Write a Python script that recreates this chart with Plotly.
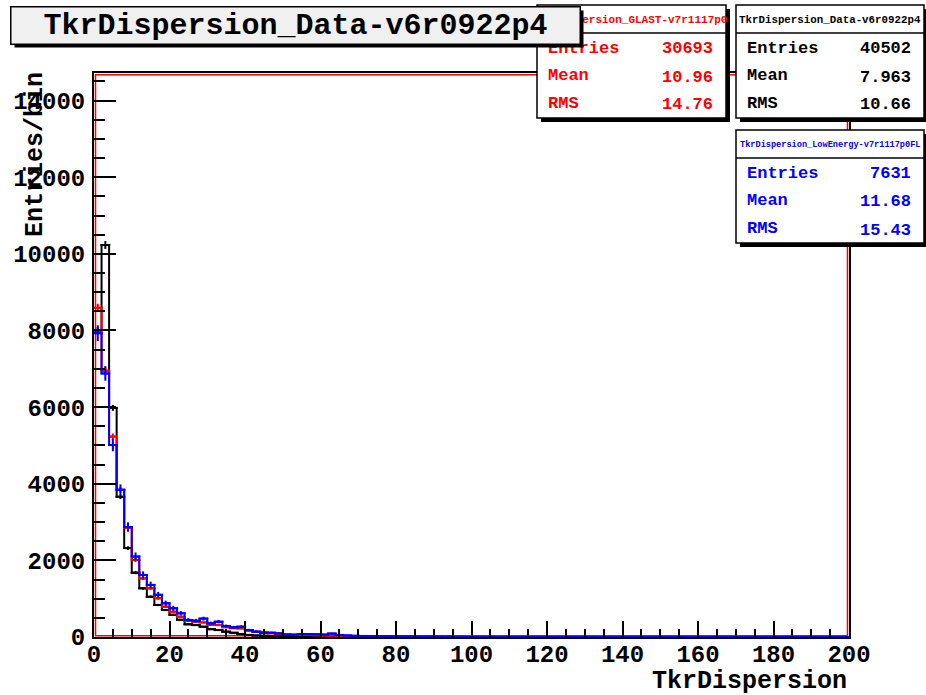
import numpy as np
import plotly.graph_objects as go

# bin edges: 100 bins of width 2 on [0, 200]
edges = np.arange(0, 202, 2)
centers = edges[:-1] + 1

# bin contents (first bins, rest empty)
data_vals = [8000, 10230, 5980, 3660, 2320, 1680, 1270, 1050, 835, 705,
             580, 450, 330, 310, 270, 205, 180, 140, 110, 80,
             55, 40, 32, 26, 22, 18, 15, 13, 11, 9,
             8, 7, 6, 5, 4, 4, 3, 3, 2, 2,
             2, 1, 1, 1, 1]
glast_vals = [8590, 6950, 5230, 3840, 2850, 2010, 1530, 1270, 1010, 790,
              660, 530, 425, 400, 380, 315, 310, 255, 230, 225,
              165, 140, 115, 95, 80, 72, 65, 58, 52, 46,
              40, 36, 32, 28, 25, 22, 19, 17, 15, 13,
              12, 10, 9, 8, 7, 6, 5, 5, 4, 4,
              3, 3, 2, 2, 2, 1, 1, 1]
lowe_vals = [7930, 6880, 5010, 3840, 2870, 2100, 1620, 1360, 1100, 880,
             750, 620, 445, 425, 480, 357, 400, 287, 253, 270,
             183, 140, 113, 113, 95, 60, 55, 78, 75, 70,
             62, 90, 55, 40, 32, 28, 22, 18, 20, 14,
             12, 10, 9, 8, 8, 6, 5, 5, 4, 3,
             3, 2, 2, 2, 1, 1]

names = ['TkrDispersion_Data-v6r0922p4', 'TkrDispersion_GLAST-v7r1117p0', 'TkrDispersion_LowEnergy-v7r1117p0FL']
entries = [40502, 30693, 7631]
means = ['7.963', '10.96', '11.68']
rmss = ['10.66', '14.76', '15.43']
colors = ['#000000', '#ff0000', '#0000ff']

FONT = 'Liberation Mono, Courier New, monospace'
W, H = 926, 695
L, R, T, B = 94, 849, 73, 637


def px(x):
    return (x - L) / (R - L)


def py(y):
    return (B - y) / (B - T)


def pad(vals):
    return list(vals) + [0] * (len(centers) - len(vals))


fig = go.Figure()
for vals, n, c in zip([data_vals, glast_vals, lowe_vals], entries, colors):
    v = np.array(pad(vals), dtype=float)
    fig.add_trace(go.Scatter(x=edges, y=np.append(v, v[-1]), mode='lines', line_shape='hv',
                             line=dict(color=c, width=2), showlegend=False, hoverinfo='skip'))
    scale = entries[0] / n
    m = v > 0
    fig.add_trace(go.Scatter(x=centers[m], y=v[m], mode='markers',
                             marker=dict(symbol='line-ew', size=7, line=dict(color=c, width=2)),
                             error_y=dict(type='data', array=np.sqrt(v[m] * scale), color=c, thickness=2, width=0),
                             showlegend=False, hoverinfo='skip'))

shapes = []
# red inner frame line
shapes.append(dict(type='rect', xref='paper', yref='paper', x0=0.002, x1=0.998, y0=0.002, y1=0.997,
                   line=dict(color='#ff0000', width=1.5), layer='below'))

# stats boxes: (x0, x1, y0, y1, header divider)
boxes = [(736, 924, 5, 118, 33), (537, 726, 5, 118, 33), (736, 924, 130, 243, 158)]
for x0, x1, y0, y1, yd in boxes:
    shapes.append(dict(type='rect', xref='paper', yref='paper', x0=px(x0 + 4), x1=px(x1 + 4), y0=py(y0 + 4), y1=py(y1 + 4),
                       fillcolor='black', line=dict(width=0)))
    shapes.append(dict(type='rect', xref='paper', yref='paper', x0=px(x0), x1=px(x1), y0=py(y0), y1=py(y1),
                       fillcolor='white', line=dict(color='black', width=1.5)))
    shapes.append(dict(type='line', xref='paper', yref='paper', x0=px(x0), x1=px(x1), y0=py(yd), y1=py(yd),
                       line=dict(color='black', width=1.5)))

annotations = []
hdr_sizes = [10.8, 11, 8.6]
lab_rows = [[49, 75.5, 103], [49, 75.5, 103], [173, 200, 228]]
val_rows = [[49, 77, 105], [49, 77, 105], [173, 201.5, 230]]
for i, (x0, x1, y0, y1, yd) in enumerate(boxes):
    c = colors[i]
    annotations.append(dict(x=px((x0 + x1) / 2), y=py((y0 + yd) / 2 + 0.5), xref='paper', yref='paper', showarrow=False,
                            text=names[i], xanchor='center', yanchor='middle',
                            font=dict(family=FONT, size=hdr_sizes[i], color=c, weight='bold')))
    for lab, val, ly, vy in zip(['Entries', 'Mean', 'RMS'], [str(entries[i]), means[i], rmss[i]], lab_rows[i], val_rows[i]):
        annotations.append(dict(x=px(x0 + 9), y=py(ly), xref='paper', yref='paper', showarrow=False, text=lab,
                                xanchor='left', yanchor='middle',
                                font=dict(family=FONT, size=17, color=c, weight='bold')))
        annotations.append(dict(x=px(x1 - 11), y=py(vy), xref='paper', yref='paper', showarrow=False, text=val,
                                xanchor='right', yanchor='middle',
                                font=dict(family=FONT, size=17, color=c, weight='bold')))

# title box with shadow, drawn over the stats text
annotations.append(dict(x=px(295 + 4), y=py(25 + 4), xref='paper', yref='paper', showarrow=False, text=' ',
                        width=568, height=36, bgcolor='black', borderpad=0, xanchor='center', yanchor='middle'))
annotations.append(dict(x=px(295), y=py(25), xref='paper', yref='paper', showarrow=False, text=names[0],
                        width=568, height=36, bgcolor='#f0f0f0', bordercolor='black', borderwidth=1.5, borderpad=0,
                        xanchor='center', yanchor='middle',
                        font=dict(family=FONT, size=30, color='black', weight='bold')))

# axis titles
annotations.append(dict(x=1, y=py(681), xref='paper', yref='paper', showarrow=False, text='TkrDispersion',
                        xanchor='right', yanchor='middle', font=dict(family=FONT, size=25, color='black', weight='bold')))
annotations.append(dict(x=px(35), y=py(155), xref='paper', yref='paper', showarrow=False, text='Entries/bin',
                        textangle=-90, xanchor='center', yanchor='middle',
                        font=dict(family=FONT, size=25, color='black', weight='bold')))

fig.update_layout(
    width=W, height=H, margin=dict(l=L, r=W - R, t=T, b=H - B),
    paper_bgcolor='white', plot_bgcolor='white',
    shapes=shapes, annotations=annotations,
    xaxis=dict(range=[0, 200], dtick=20, ticks='inside', ticklen=16, tickwidth=1.5, tickcolor='black',
               minor=dict(dtick=5, ticks='inside', ticklen=8, tickwidth=1.5, tickcolor='black'),
               showgrid=False, zeroline=False, showline=True, linecolor='black', linewidth=2, mirror=True,
               ticklabelstandoff=-6,
               tickfont=dict(family=FONT, size=24, color='black', weight='bold')),
    yaxis=dict(range=[0, 14720], dtick=2000, ticks='inside', ticklen=22, tickwidth=1.5, tickcolor='black',
               minor=dict(dtick=500, ticks='inside', ticklen=11, tickwidth=1.5, tickcolor='black'),
               showgrid=False, zeroline=False, showline=True, linecolor='black', linewidth=2, mirror=True,
               tickformat='d', ticklabelstandoff=2,
               tickfont=dict(family=FONT, size=24, color='black', weight='bold')),
)

# drop the page's default body margin so the figure sits at the window's corner
fig.write_html("out.html", config={'displayModeBar': False},
               post_script="document.body.style.margin='0';")
